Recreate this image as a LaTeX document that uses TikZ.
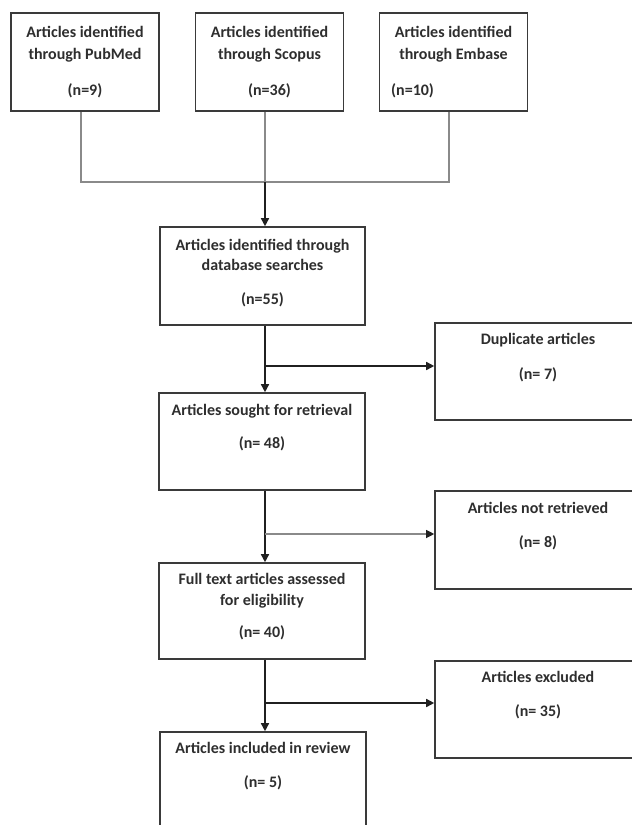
\documentclass[tikz,border=0pt]{standalone}
\usepackage{fontspec}
\setmainfont{Carlito}
\usetikzlibrary{arrows.meta}
\definecolor{boxc}{HTML}{3A3A3A}
\definecolor{txtc}{HTML}{2E2E2E}
\definecolor{linec}{HTML}{202020}
\definecolor{greyc}{HTML}{8A8A8A}
\begin{document}
\begin{tikzpicture}[x=1pt,y=-1pt,
  box/.style={draw=boxc, line width=1.6pt, rectangle, inner sep=0pt},
  topbox/.style={box, minimum width=148pt, minimum height=98pt},
  sidebox/.style={box, minimum width=206pt, minimum height=97pt},
  txt/.style={font=\bfseries\fontsize{16}{19}\selectfont, text=txtc, inner sep=0pt, anchor=base},
  arr/.style={draw=linec, line width=1.5pt, -{Triangle[length=8pt,width=8pt]}},
  thinarr/.style={draw=greyc, line width=1.1pt, -{Triangle[length=8pt,width=8pt,color=linec]}},
  gline/.style={draw=greyc, line width=1.3pt}]
\clip (0,0) rectangle (632,825);
\fill[white] (0,0) rectangle (632,825);
% boxes
\node[topbox] (b1) at (85,62) {};
\node[topbox] (b2) at (269.5,62) {};
\node[topbox] (b3) at (453.5,62) {};
\node[box, minimum width=205pt, minimum height=98pt] (b4) at (262.5,276) {};
\node[box, minimum width=206pt, minimum height=97pt] (b5) at (262,441.5) {};
\node[box, minimum width=206pt, minimum height=96pt] (b6) at (262,611) {};
\node[box, minimum width=206pt, minimum height=100pt] (b7) at (263,782) {};
\node[sidebox] (b8) at (538,371.5) {};
\node[sidebox, minimum height=98pt] (b9) at (538,540) {};
\node[sidebox] (b10) at (538,709.5) {};
% texts
\node[txt] (t1a) at (85,37) {Articles identified};
\node[txt] (t1b) at (85,59) {through PubMed};
\node[txt] (t1c) at (85,95) {(n=9)};
\node[txt] (t2a) at (269.5,37) {Articles identified};
\node[txt] (t2b) at (269.5,59) {through Scopus};
\node[txt] (t2c) at (269.5,95) {(n=36)};
\node[txt] (t3a) at (453.5,37) {Articles identified};
\node[txt] (t3b) at (453.5,59) {through Embase};
\node[txt, anchor=base west] (t3c) at (391,95) {(n=10)};
\node[txt] (t4a) at (262.5,250) {Articles identified through};
\node[txt] (t4b) at (262.5,270) {database searches};
\node[txt] (t4c) at (262.5,304) {(n=55)};
\node[txt] (t5a) at (262,415) {Articles sought for retrieval};
\node[txt] (t5b) at (262,448) {(n= 48)};
\node[txt] (t6a) at (262,584) {Full text articles assessed};
\node[txt] (t6b) at (262,605) {for eligibility};
\node[txt] (t6c) at (262,637) {(n= 40)};
\node[txt] (t7a) at (263,753) {Articles included in review};
\node[txt] (t7b) at (263,787) {(n= 5)};
\node[txt] (t8a) at (538,344) {Duplicate articles};
\node[txt] (t8b) at (538,379) {(n= 7)};
\node[txt] (t9a) at (538,513) {Articles not retrieved};
\node[txt] (t9b) at (538,547) {(n= 8)};
\node[txt] (t10a) at (538,682) {Articles excluded};
\node[txt] (t10b) at (538,716) {(n= 35)};
% connector coordinates
\coordinate (c1) at (81,0);
\coordinate (c3) at (449,0);
\coordinate (m) at (265,0);
\coordinate (hy) at (0,182);
\coordinate (j1) at (265,366);
\coordinate (j2) at (265,534);
\coordinate (j3) at (265,703);
% connectors
\draw[gline] (b1.south -| c1) |- (c3 |- hy) -- (b3.south -| c3);
\draw[gline] (b2.south -| m) -- (m |- hy);
\draw[arr] (m |- hy) -- (b4.north -| m);
\draw[arr] (b4.south -| m) -- (b5.north -| m);
\draw[arr] (j1) -- (b8.west |- j1);
\draw[arr] (b5.south -| m) -- (b6.north -| m);
\draw[thinarr] (j2) -- (b9.west |- j2);
\draw[arr] (b6.south -| m) -- (b7.north -| m);
\draw[arr] (j3) -- (b10.west |- j3);
\end{tikzpicture}
\end{document}
